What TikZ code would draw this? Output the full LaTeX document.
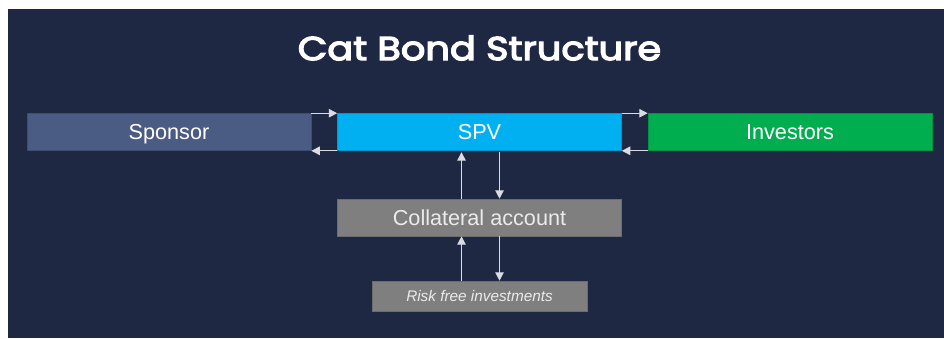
\documentclass[tikz,border=0pt]{standalone}
\usepackage{fontspec}
\setmainfont{Liberation Sans}
\newfontfamily\titlefont[FakeBold=4,FakeStretch=1.16]{Poppins}
\usetikzlibrary{arrows.meta, positioning}
\definecolor{Navy}   {HTML}{1F2843}
\definecolor{SponF}  {HTML}{4A5B84}
\definecolor{SpvF}   {HTML}{00B0F0}
\definecolor{InvF}   {HTML}{00AD4F}
\definecolor{CollF}  {HTML}{7F7F7F}
\definecolor{ArrG}   {HTML}{DADCE2}
\tikzset{
  bar/.style args={#1}{
    rectangle, draw=#1!85!black, fill=#1, text=white,
    font=\fontsize{15.4}{18}\selectfont, align=center,
    text height=11pt, text depth=0pt,
    inner sep=0pt, minimum width=7.1cm, minimum height=0.925cm,
    line width=0.4pt,
  },
  sbar/.style={
    rectangle, draw=CollF!85!black, fill=CollF, text=white!92!black,
    font=\fontsize{10.9}{13}\selectfont\itshape, align=center,
    text height=7.8pt, text depth=0pt,
    inner sep=0pt, minimum width=5.375cm, minimum height=0.75cm,
    line width=0.4pt,
  },
  arr/.style={
    -{Triangle[length=6pt,width=6pt]},
    line width=0.9pt, color=ArrG,
  },
}

\begin{document}
\begin{tikzpicture}[x=0.025cm,y=-0.025cm]
    % page and panel
    \fill[white] (0,0) rectangle (944,338);
    \fill[Navy] (8,9) rectangle (944,338);
    \node[text=white,font=\titlefont\fontsize{23.5}{28}\selectfont] (title) at (479.5,48) {Cat Bond Structure};

    \node[bar=SponF] (sponsor)   at (169,132) {Sponsor};
    \node[bar=SpvF]  (spv)       at (479.5,132) {SPV};
    \node[bar=InvF]  (investors) at (790,132) {Investors};
    \node[bar=CollF,text=white!92!black] (collat) at (479.5,217.5) {Collateral account};
    \node[sbar] (riskfree) at (479.5,296) {Risk free investments};

    \draw[arr](sponsor.north east)--(spv.north west);
    \draw[arr](spv.south west)--(sponsor.south east);
    \draw[arr](spv.north east)--(investors.north west);
    \draw[arr](investors.south west)--(spv.south east);

    \draw[arr]([xshift=-18*0.025cm]collat.north)--([xshift=-18*0.025cm,yshift=-1pt]spv.south);
    \draw[arr]([xshift=20*0.025cm,yshift=-1pt]spv.south)--([xshift=20*0.025cm]collat.north);
    \draw[arr]([xshift=-18*0.025cm]riskfree.north)--([xshift=-18*0.025cm]collat.south);
    \draw[arr]([xshift=20*0.025cm]collat.south)--([xshift=20*0.025cm]riskfree.north);
  \end{tikzpicture}
\end{document}
